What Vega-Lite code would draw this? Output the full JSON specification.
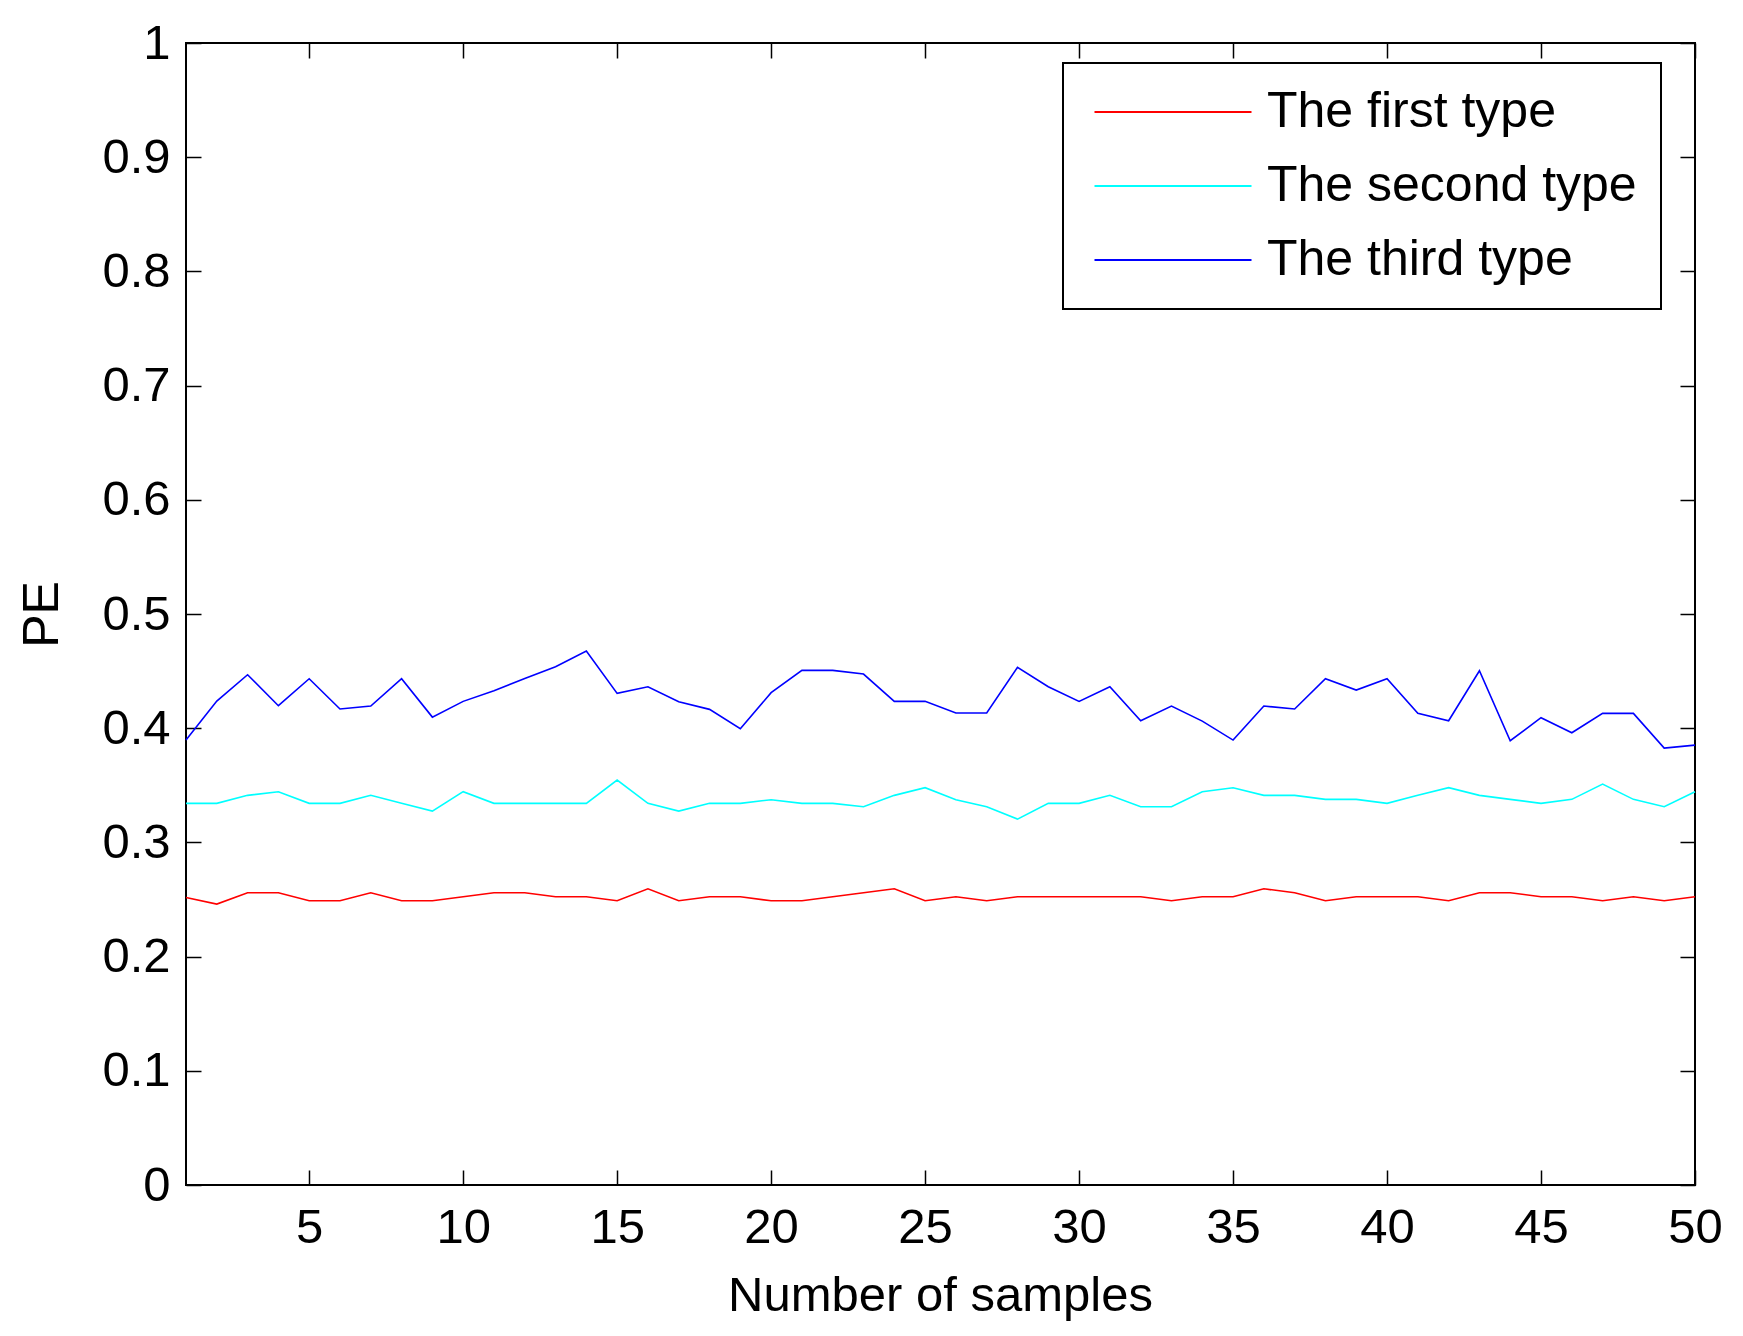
{
  "$schema": "https://vega.github.io/schema/vega-lite/v6.json",
  "width": 1509,
  "height": 1142,
  "autosize": {"type": "none"},
  "padding": {"left": 186, "top": 43, "right": 48, "bottom": 151},
  "background": "white",
  "data": {
    "values": [
      {"n":1,"type":"The first type","pe":0.2518},{"n":2,"type":"The first type","pe":0.2460},{"n":3,"type":"The first type","pe":0.2559},{"n":4,"type":"The first type","pe":0.2559},{"n":5,"type":"The first type","pe":0.2489},
      {"n":6,"type":"The first type","pe":0.2489},{"n":7,"type":"The first type","pe":0.2559},{"n":8,"type":"The first type","pe":0.2489},{"n":9,"type":"The first type","pe":0.2489},{"n":10,"type":"The first type","pe":0.2524},
      {"n":11,"type":"The first type","pe":0.2559},{"n":12,"type":"The first type","pe":0.2559},{"n":13,"type":"The first type","pe":0.2524},{"n":14,"type":"The first type","pe":0.2524},{"n":15,"type":"The first type","pe":0.2489},
      {"n":16,"type":"The first type","pe":0.2594},{"n":17,"type":"The first type","pe":0.2489},{"n":18,"type":"The first type","pe":0.2524},{"n":19,"type":"The first type","pe":0.2524},{"n":20,"type":"The first type","pe":0.2489},
      {"n":21,"type":"The first type","pe":0.2489},{"n":22,"type":"The first type","pe":0.2524},{"n":23,"type":"The first type","pe":0.2559},{"n":24,"type":"The first type","pe":0.2594},{"n":25,"type":"The first type","pe":0.2489},
      {"n":26,"type":"The first type","pe":0.2524},{"n":27,"type":"The first type","pe":0.2489},{"n":28,"type":"The first type","pe":0.2524},{"n":29,"type":"The first type","pe":0.2524},{"n":30,"type":"The first type","pe":0.2524},
      {"n":31,"type":"The first type","pe":0.2524},{"n":32,"type":"The first type","pe":0.2524},{"n":33,"type":"The first type","pe":0.2489},{"n":34,"type":"The first type","pe":0.2524},{"n":35,"type":"The first type","pe":0.2524},
      {"n":36,"type":"The first type","pe":0.2594},{"n":37,"type":"The first type","pe":0.2559},{"n":38,"type":"The first type","pe":0.2489},{"n":39,"type":"The first type","pe":0.2524},{"n":40,"type":"The first type","pe":0.2524},
      {"n":41,"type":"The first type","pe":0.2524},{"n":42,"type":"The first type","pe":0.2489},{"n":43,"type":"The first type","pe":0.2559},{"n":44,"type":"The first type","pe":0.2559},{"n":45,"type":"The first type","pe":0.2524},
      {"n":46,"type":"The first type","pe":0.2524},{"n":47,"type":"The first type","pe":0.2489},{"n":48,"type":"The first type","pe":0.2524},{"n":49,"type":"The first type","pe":0.2489},{"n":50,"type":"The first type","pe":0.2524},
      {"n":1,"type":"The second type","pe":0.3342},{"n":2,"type":"The second type","pe":0.3342},{"n":3,"type":"The second type","pe":0.3412},{"n":4,"type":"The second type","pe":0.3444},{"n":5,"type":"The second type","pe":0.3342},
      {"n":6,"type":"The second type","pe":0.3342},{"n":7,"type":"The second type","pe":0.3412},{"n":8,"type":"The second type","pe":0.3342},{"n":9,"type":"The second type","pe":0.3274},{"n":10,"type":"The second type","pe":0.3444},
      {"n":11,"type":"The second type","pe":0.3342},{"n":12,"type":"The second type","pe":0.3342},{"n":13,"type":"The second type","pe":0.3342},{"n":14,"type":"The second type","pe":0.3342},{"n":15,"type":"The second type","pe":0.3546},
      {"n":16,"type":"The second type","pe":0.3342},{"n":17,"type":"The second type","pe":0.3274},{"n":18,"type":"The second type","pe":0.3342},{"n":19,"type":"The second type","pe":0.3342},{"n":20,"type":"The second type","pe":0.3374},
      {"n":21,"type":"The second type","pe":0.3342},{"n":22,"type":"The second type","pe":0.3342},{"n":23,"type":"The second type","pe":0.3312},{"n":24,"type":"The second type","pe":0.3412},{"n":25,"type":"The second type","pe":0.3479},
      {"n":26,"type":"The second type","pe":0.3374},{"n":27,"type":"The second type","pe":0.3312},{"n":28,"type":"The second type","pe":0.3204},{"n":29,"type":"The second type","pe":0.3342},{"n":30,"type":"The second type","pe":0.3342},
      {"n":31,"type":"The second type","pe":0.3412},{"n":32,"type":"The second type","pe":0.3312},{"n":33,"type":"The second type","pe":0.3312},{"n":34,"type":"The second type","pe":0.3444},{"n":35,"type":"The second type","pe":0.3479},
      {"n":36,"type":"The second type","pe":0.3412},{"n":37,"type":"The second type","pe":0.3412},{"n":38,"type":"The second type","pe":0.3377},{"n":39,"type":"The second type","pe":0.3377},{"n":40,"type":"The second type","pe":0.3342},
      {"n":41,"type":"The second type","pe":0.3412},{"n":42,"type":"The second type","pe":0.3479},{"n":43,"type":"The second type","pe":0.3412},{"n":44,"type":"The second type","pe":0.3377},{"n":45,"type":"The second type","pe":0.3342},
      {"n":46,"type":"The second type","pe":0.3377},{"n":47,"type":"The second type","pe":0.3511},{"n":48,"type":"The second type","pe":0.3377},{"n":49,"type":"The second type","pe":0.3312},{"n":50,"type":"The second type","pe":0.3444},
      {"n":1,"type":"The third type","pe":0.3896},{"n":2,"type":"The third type","pe":0.4238},{"n":3,"type":"The third type","pe":0.4468},{"n":4,"type":"The third type","pe":0.4197},{"n":5,"type":"The third type","pe":0.4433},
      {"n":6,"type":"The third type","pe":0.4168},{"n":7,"type":"The third type","pe":0.4194},{"n":8,"type":"The third type","pe":0.4433},{"n":9,"type":"The third type","pe":0.4097},{"n":10,"type":"The third type","pe":0.4235},
      {"n":11,"type":"The third type","pe":0.4328},{"n":12,"type":"The third type","pe":0.4436},{"n":13,"type":"The third type","pe":0.4538},{"n":14,"type":"The third type","pe":0.4675},{"n":15,"type":"The third type","pe":0.4305},
      {"n":16,"type":"The third type","pe":0.4363},{"n":17,"type":"The third type","pe":0.4232},{"n":18,"type":"The third type","pe":0.4165},{"n":19,"type":"The third type","pe":0.3995},{"n":20,"type":"The third type","pe":0.4311},
      {"n":21,"type":"The third type","pe":0.4506},{"n":22,"type":"The third type","pe":0.4506},{"n":23,"type":"The third type","pe":0.4474},{"n":24,"type":"The third type","pe":0.4235},{"n":25,"type":"The third type","pe":0.4235},
      {"n":26,"type":"The third type","pe":0.4133},{"n":27,"type":"The third type","pe":0.4133},{"n":28,"type":"The third type","pe":0.4532},{"n":29,"type":"The third type","pe":0.4363},{"n":30,"type":"The third type","pe":0.4235},
      {"n":31,"type":"The third type","pe":0.4363},{"n":32,"type":"The third type","pe":0.4065},{"n":33,"type":"The third type","pe":0.4194},{"n":34,"type":"The third type","pe":0.4062},{"n":35,"type":"The third type","pe":0.3896},
      {"n":36,"type":"The third type","pe":0.4194},{"n":37,"type":"The third type","pe":0.4168},{"n":38,"type":"The third type","pe":0.4433},{"n":39,"type":"The third type","pe":0.4334},{"n":40,"type":"The third type","pe":0.4433},
      {"n":41,"type":"The third type","pe":0.4130},{"n":42,"type":"The third type","pe":0.4065},{"n":43,"type":"The third type","pe":0.4503},{"n":44,"type":"The third type","pe":0.3890},{"n":45,"type":"The third type","pe":0.4092},
      {"n":46,"type":"The third type","pe":0.3960},{"n":47,"type":"The third type","pe":0.4130},{"n":48,"type":"The third type","pe":0.4130},{"n":49,"type":"The third type","pe":0.3826},{"n":50,"type":"The third type","pe":0.3852}
    ]
  },
  "layer": [
    {
      "mark": {"type": "line", "strokeWidth": 1.6, "interpolate": "linear"},
      "encoding": {
        "x": {
          "field": "n", "type": "quantitative",
          "scale": {"domain": [1, 50], "nice": false, "zero": false},
          "axis": {
            "orient": "bottom",
            "values": [5, 10, 15, 20, 25, 30, 35, 40, 45, 50],
            "format": "d",
            "domain": false,
            "grid": false,
            "ticks": true,
            "tickSize": -15,
            "tickWidth": 1.5,
            "tickColor": "black",
            "labelFontSize": 49,
            "labelColor": "black",
            "labelBaseline": "alphabetic",
            "labelPadding": 72,
            "labelFlush": false,
            "labelOverlap": false,
            "title": "Number of samples",
            "titleFontSize": 49,
            "titleFontWeight": "normal",
            "titleColor": "black",
            "titleBaseline": "alphabetic",
            "titleAlign": "center",
            "titleX": 754,
            "titleY": 125
          }
        },
        "y": {
          "field": "pe", "type": "quantitative",
          "scale": {"domain": [0, 1], "nice": false, "zero": false},
          "axis": {
            "orient": "left",
            "values": [0, 0.1, 0.2, 0.3, 0.4, 0.5, 0.6, 0.7, 0.8, 0.9, 1],
            "labelExpr": "'' + datum.value",
            "domain": false,
            "grid": false,
            "ticks": true,
            "tickSize": -15,
            "tickWidth": 1.5,
            "tickColor": "black",
            "labelFontSize": 49,
            "labelColor": "black",
            "labelAlign": "right",
            "labelBaseline": "middle",
            "labelPadding": 31,
            "labelFlush": false,
            "labelOverlap": false,
            "title": "PE",
            "titleFontSize": 50,
            "titleFontWeight": "normal",
            "titleColor": "black",
            "titleAngle": -90,
            "titleBaseline": "alphabetic",
            "titleAlign": "center",
            "titleX": -129,
            "titleY": 571
          }
        },
        "color": {
          "field": "type", "type": "nominal",
          "scale": {
            "domain": ["The first type", "The second type", "The third type"],
            "range": ["#ff0000", "#00ffff", "#0000ff"]
          },
          "legend": {
            "orient": "none",
            "legendX": 877,
            "legendY": 20,
            "title": null,
            "symbolType": "M-5,0H5",
            "symbolSize": 986,
            "symbolStrokeWidth": 2,
            "symbolOffset": 61,
            "labelFontSize": 50,
            "labelColor": "black",
            "labelOffset": 69,
            "labelLimit": 0,
            "rowPadding": 24,
            "padding": 24,
            "strokeColor": "black",
            "fillColor": "white"
          }
        }
      }
    },
    {
      "mark": {"type": "point", "opacity": 0},
      "encoding": {
        "x": {
          "field": "n", "type": "quantitative",
          "axis": {
            "orient": "top",
            "values": [5, 10, 15, 20, 25, 30, 35, 40, 45, 50],
            "domain": false, "grid": false, "labels": false,
            "ticks": true, "tickSize": -15, "tickWidth": 1.5, "tickColor": "black",
            "title": null
          }
        },
        "y": {
          "field": "pe", "type": "quantitative",
          "axis": {
            "orient": "right",
            "values": [0, 0.1, 0.2, 0.3, 0.4, 0.5, 0.6, 0.7, 0.8, 0.9, 1],
            "domain": false, "grid": false, "labels": false,
            "ticks": true, "tickSize": -15, "tickWidth": 1.5, "tickColor": "black",
            "title": null
          }
        }
      }
    }
  ],
  "resolve": {"axis": {"x": "independent", "y": "independent"}},
  "config": {
    "font": "Liberation Sans, Arial, sans-serif",
    "view": {"stroke": "black", "strokeWidth": 2},
    "legend": {"strokeWidth": 2, "labelFont": "Liberation Sans, Arial, sans-serif"},
    "axis": {"labelFont": "Liberation Sans, Arial, sans-serif", "titleFont": "Liberation Sans, Arial, sans-serif"}
  }
}
